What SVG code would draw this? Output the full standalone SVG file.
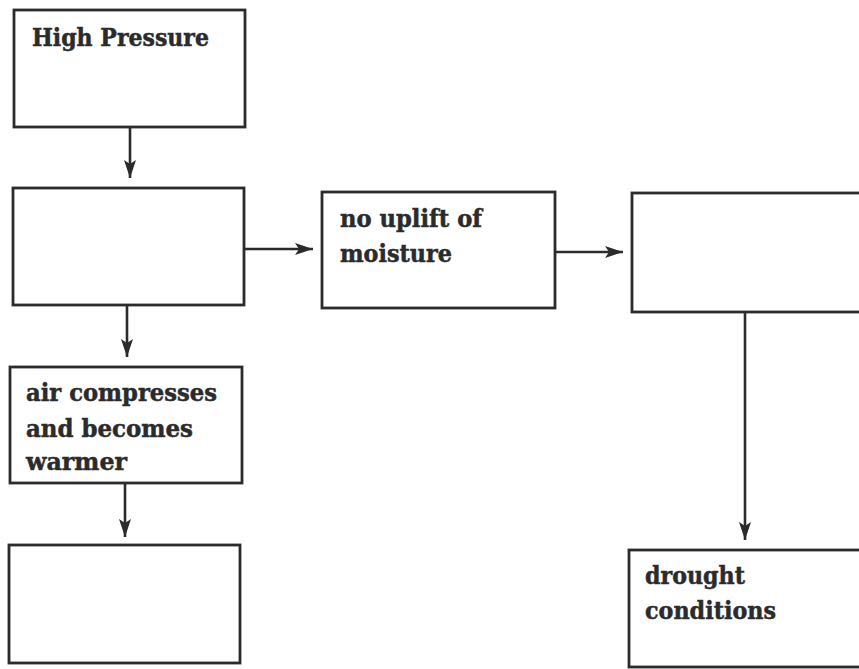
<svg xmlns="http://www.w3.org/2000/svg" width="859" height="669" viewBox="0 0 859 669">
<style>
.box{fill:#fff;stroke:#2b2b2b;stroke-width:2.8}
.lbl{font-family:"DejaVu Serif","Liberation Serif",serif;font-weight:bold;font-size:24px;fill:#2b2b2b;stroke:#2b2b2b;stroke-width:0.5}
.con{stroke:#2b2b2b;stroke-width:2.6;fill:none}
</style>
<defs>
<marker id="ah" viewBox="0 0 18 12" refX="18" refY="6" markerWidth="18" markerHeight="12" markerUnits="userSpaceOnUse" orient="auto">
<path d="M0,0 L18,6 L0,12 L4,6 Z" fill="#2b2b2b"/>
</marker>
</defs>
<rect width="859" height="669" fill="#fff"/>
<g id="n1"><rect class="box" x="14" y="10" width="231" height="117"/><text class="lbl" x="32" y="46" textLength="177" lengthAdjust="spacingAndGlyphs">High Pressure</text></g>
<g id="n2"><rect class="box" x="13" y="188" width="231" height="117"/></g>
<g id="n3"><rect class="box" x="322" y="192" width="233" height="116"/><text class="lbl" x="340" y="227" textLength="142" lengthAdjust="spacingAndGlyphs">no uplift of</text><text class="lbl" x="340" y="262" textLength="112" lengthAdjust="spacingAndGlyphs">moisture</text></g>
<g id="n4"><rect class="box" x="632" y="193" width="240" height="119"/></g>
<g id="n5"><rect class="box" x="10" y="367" width="232" height="116"/><text class="lbl" x="26" y="401" textLength="191" lengthAdjust="spacingAndGlyphs">air compresses</text><text class="lbl" x="26" y="437" textLength="167" lengthAdjust="spacingAndGlyphs">and becomes</text><text class="lbl" x="26" y="470" textLength="101" lengthAdjust="spacingAndGlyphs">warmer</text></g>
<g id="n6"><rect class="box" x="9" y="545" width="231" height="118"/></g>
<g id="n7"><rect class="box" x="629" y="550" width="243" height="117"/><text class="lbl" x="645" y="584" textLength="100" lengthAdjust="spacingAndGlyphs">drought</text><text class="lbl" x="645" y="619" textLength="131" lengthAdjust="spacingAndGlyphs">conditions</text></g>
<g id="connectors">
<line class="con" x1="130" y1="127" x2="130" y2="178" marker-end="url(#ah)"/>
<line class="con" x1="244" y1="249" x2="313" y2="249" marker-end="url(#ah)"/>
<line class="con" x1="555" y1="252" x2="623" y2="252" marker-end="url(#ah)"/>
<line class="con" x1="127" y1="305" x2="127" y2="357" marker-end="url(#ah)"/>
<line class="con" x1="125" y1="483" x2="125" y2="537" marker-end="url(#ah)"/>
<line class="con" x1="745" y1="312" x2="745" y2="540" marker-end="url(#ah)"/>
</g>
</svg>
